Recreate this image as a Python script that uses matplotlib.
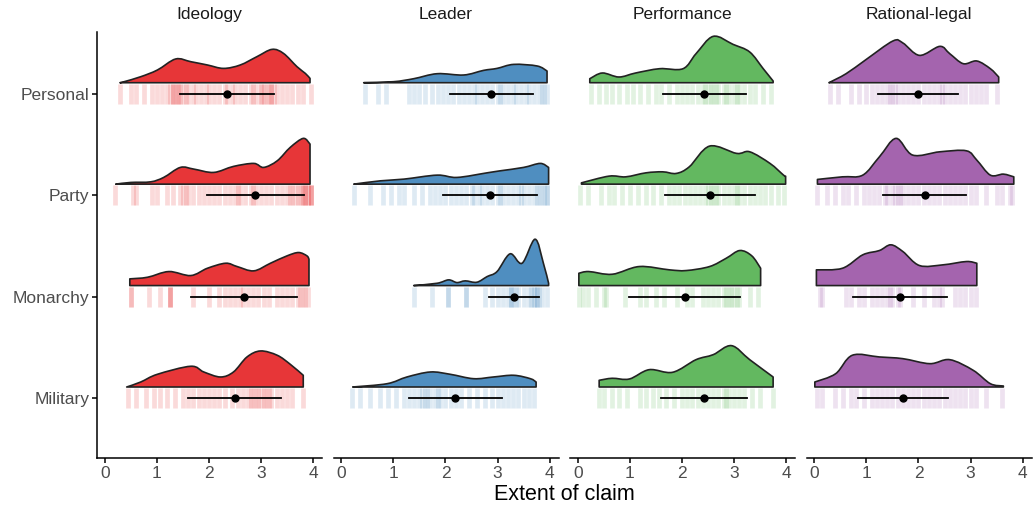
import matplotlib
matplotlib.use("Agg")
import matplotlib.pyplot as plt
from matplotlib.path import Path
from matplotlib.patches import PathPatch
from matplotlib.colors import to_rgba
import numpy as np

plt.rcParams['font.family'] = ['Liberation Sans', 'DejaVu Sans']

FACETS = ["Ideology", "Leader", "Performance", "Rational-legal"]
REGIMES = ["Personal", "Party", "Monarchy", "Military"]   # top to bottom
COLORS = ["#E41A1C", "#377EB8", "#4DAF4A", "#984EA3"]
XTICKS = [0, 1, 2, 3, 4]
XLABEL = "Extent of claim"

# ---- mean and sd per facet (order: Personal, Party, Monarchy, Military)
MEAN_IDEOLOGY = [2.34, 2.89, 2.67, 2.49]
SD_IDEOLOGY = [0.90, 0.93, 1.02, 0.89]
MEAN_LEADER = [2.88, 2.86, 3.32, 2.19]
SD_LEADER = [0.80, 0.90, 0.48, 0.90]
MEAN_PERFORMANCE = [2.43, 2.54, 2.05, 2.42]
SD_PERFORMANCE = [0.80, 0.86, 1.06, 0.83]
MEAN_RATIONAL = [1.99, 2.12, 1.64, 1.70]
SD_RATIONAL = [0.77, 0.80, 0.90, 0.87]

# ---- density curves (x, relative density height)
IDEO_PERSONAL_X = [0.29, 0.37, 0.69, 1.01, 1.36, 1.65, 1.97, 2.28, 2.60, 2.92, 3.21, 3.43, 3.69, 3.85, 3.94]
IDEO_PERSONAL_H = [0.0, 1.0, 6.0, 12.7, 23.7, 21.0, 17.7, 14.3, 17.7, 26.0, 33.3, 29.3, 16.0, 9.3, 4.3]
IDEO_PARTY_X = [0.21, 0.50, 0.88, 1.13, 1.45, 1.71, 2.09, 2.47, 2.86, 3.05, 3.31, 3.56, 3.81, 3.94]
IDEO_PARTY_H = [0.0, 1.7, 2.3, 6.7, 16.7, 15.0, 11.7, 17.7, 20.7, 16.7, 23.3, 36.7, 45.7, 40.0]
IDEO_MONARCHY_X = [0.48, 0.82, 1.23, 1.65, 1.97, 2.32, 2.54, 2.86, 3.18, 3.50, 3.72, 3.88, 3.92]
IDEO_MONARCHY_H = [6.7, 8.3, 14.0, 10.0, 17.3, 22.3, 19.0, 14.7, 22.3, 29.7, 33.0, 29.7, 26.3]
IDEO_MILITARY_X = [0.42, 0.69, 1.01, 1.65, 1.90, 2.22, 2.47, 2.73, 2.99, 3.31, 3.56, 3.81]
IDEO_MILITARY_H = [0.0, 5.0, 12.7, 20.7, 15.0, 10.0, 15.0, 30.0, 36.0, 31.7, 22.7, 11.7]

LEAD_PERSONAL_X = [0.43, 1.00, 1.39, 1.84, 2.35, 2.73, 2.99, 3.31, 3.76, 3.95]
LEAD_PERSONAL_H = [0.0, 1.0, 4.0, 9.0, 7.7, 12.3, 14.3, 18.3, 16.7, 11.7]
LEAD_PARTY_X = [0.24, 0.75, 1.20, 1.84, 2.22, 2.80, 3.05, 3.50, 3.82, 3.98]
LEAD_PARTY_H = [0.0, 3.3, 5.0, 9.0, 6.7, 11.3, 13.3, 16.7, 20.7, 16.7]
LEAD_MONARCHY_X = [1.39, 1.84, 2.06, 2.22, 2.38, 2.60, 2.80, 2.99, 3.24, 3.47, 3.72, 3.88, 3.98]
LEAD_MONARCHY_H = [0.0, 2.3, 5.7, 3.0, 4.7, 3.3, 9.0, 14.0, 31.7, 22.3, 46.3, 22.3, 2.3]
LEAD_MILITARY_X = [0.22, 0.88, 1.26, 1.71, 2.09, 2.54, 2.92, 3.31, 3.63, 3.74]
LEAD_MILITARY_H = [0.0, 3.3, 10.0, 15.0, 12.7, 8.3, 10.0, 11.7, 8.3, 5.0]

PERF_PERSONAL_X = [0.23, 0.47, 0.79, 1.11, 1.57, 2.02, 2.27, 2.60, 2.98, 3.30, 3.56, 3.75]
PERF_PERSONAL_H = [4.0, 9.7, 5.7, 9.7, 14.0, 14.0, 29.0, 46.3, 38.3, 30.7, 14.0, 1.7]
PERF_PARTY_X = [0.07, 0.60, 0.92, 1.31, 1.63, 1.89, 2.14, 2.53, 3.05, 3.30, 3.69, 3.95, 3.99]
PERF_PARTY_H = [1.3, 8.0, 7.3, 11.3, 12.3, 10.7, 17.3, 38.0, 30.7, 32.3, 20.7, 9.0, 8.0]
PERF_MONARCHY_X = [0.02, 0.21, 0.66, 1.18, 1.76, 2.08, 2.53, 2.85, 3.11, 3.34, 3.51]
PERF_MONARCHY_H = [12.3, 14.0, 11.3, 19.0, 15.7, 15.0, 19.0, 27.3, 35.0, 29.7, 17.3]
PERF_MILITARY_X = [0.41, 0.66, 0.99, 1.37, 1.82, 2.27, 2.60, 2.95, 3.30, 3.75]
PERF_MILITARY_H = [6.7, 8.7, 8.0, 17.3, 14.7, 27.3, 32.3, 41.3, 27.3, 10.0]

RAT_PERSONAL_X = [0.28, 0.61, 0.99, 1.51, 1.70, 2.02, 2.41, 2.60, 2.86, 3.12, 3.38, 3.54]
RAT_PERSONAL_H = [0.0, 9.0, 23.0, 41.7, 39.7, 27.3, 36.3, 29.0, 19.0, 21.7, 14.0, 5.7]
RAT_PARTY_X = [0.06, 0.54, 0.93, 1.25, 1.57, 1.89, 2.41, 2.92, 3.12, 3.38, 3.63, 3.83]
RAT_PARTY_H = [4.7, 7.3, 9.0, 27.3, 45.7, 29.0, 32.3, 33.3, 24.0, 9.0, 10.0, 7.3]
RAT_MONARCHY_X = [0.04, 0.54, 0.93, 1.25, 1.47, 1.70, 2.02, 2.47, 2.92, 3.12]
RAT_MONARCHY_H = [15.7, 17.3, 30.7, 35.0, 40.7, 34.0, 20.0, 20.7, 24.0, 22.3]
RAT_MILITARY_X = [0.01, 0.41, 0.73, 1.25, 1.70, 2.22, 2.60, 3.05, 3.38, 3.63]
RAT_MILITARY_H = [5.0, 13.3, 31.7, 30.0, 28.3, 23.3, 27.3, 16.7, 3.3, 1.0]

# ---- observed scores (raw points)
IDEO_PERSONAL_PTS = [0.3, 0.5, 0.6, 0.75, 0.9, 1.0, 1.1, 1.2, 1.25, 1.3, 1.3, 1.35, 1.4, 1.4, 1.45, 1.5, 1.55, 1.6, 1.7, 1.75, 1.85, 1.95, 2.0, 2.1, 2.2, 2.3, 2.35, 2.45, 2.5, 2.6, 2.7, 2.8, 2.85, 2.9, 3.0, 3.0, 3.05, 3.1, 3.15, 3.2, 3.2, 3.25, 3.3, 3.4, 3.5, 3.6, 3.7, 3.8, 3.95]
IDEO_PARTY_PTS = [0.2, 0.55, 0.6, 0.9, 1.0, 1.2, 1.3, 1.45, 1.5, 1.55, 1.6, 1.7, 1.8, 1.9, 2.0, 2.1, 2.2, 2.3, 2.4, 2.5, 2.55, 2.6, 2.7, 2.8, 2.85, 2.9, 3.0, 3.1, 3.2, 3.3, 3.4, 3.5, 3.55, 3.6, 3.65, 3.7, 3.75, 3.8, 3.8, 3.85, 3.85, 3.9, 3.9, 3.95, 3.95, 3.95]
IDEO_MONARCHY_PTS = [0.5, 0.5, 0.85, 1.05, 1.25, 1.25, 1.25, 1.7, 2.0, 2.2, 2.3, 2.4, 2.5, 2.6, 2.65, 2.75, 2.85, 2.95, 3.05, 3.15, 3.3, 3.4, 3.5, 3.6, 3.7, 3.75, 3.8, 3.85, 3.9]
IDEO_MILITARY_PTS = [0.45, 0.6, 0.8, 0.95, 1.05, 1.2, 1.35, 1.5, 1.6, 1.7, 1.8, 1.9, 2.0, 2.1, 2.2, 2.3, 2.45, 2.55, 2.65, 2.75, 2.8, 2.85, 2.9, 2.95, 3.0, 3.05, 3.1, 3.15, 3.2, 3.3, 3.4, 3.5, 3.6, 3.8]

LEAD_PERSONAL_PTS = [0.45, 0.7, 0.85, 1.3, 1.4, 1.5, 1.6, 1.75, 1.85, 1.95, 2.05, 2.15, 2.25, 2.35, 2.45, 2.55, 2.6, 2.7, 2.8, 2.9, 3.0, 3.05, 3.1, 3.2, 3.3, 3.35, 3.45, 3.55, 3.6, 3.7, 3.8, 3.85, 3.9, 3.95]
LEAD_PARTY_PTS = [0.25, 0.55, 0.8, 0.95, 1.1, 1.2, 1.4, 1.55, 1.7, 1.8, 1.9, 2.0, 2.1, 2.2, 2.3, 2.4, 2.5, 2.55, 2.65, 2.7, 2.8, 2.9, 3.0, 3.05, 3.1, 3.2, 3.3, 3.4, 3.45, 3.5, 3.6, 3.7, 3.75, 3.8, 3.85, 3.9, 3.95, 3.95]
LEAD_MONARCHY_PTS = [1.4, 1.75, 2.05, 2.05, 2.4, 2.4, 2.75, 2.9, 3.0, 3.1, 3.2, 3.25, 3.25, 3.3, 3.35, 3.4, 3.5, 3.6, 3.65, 3.7, 3.7, 3.75, 3.75, 3.8, 3.85, 3.95]
LEAD_MILITARY_PTS = [0.2, 0.35, 0.55, 0.75, 0.9, 1.05, 1.2, 1.3, 1.4, 1.5, 1.55, 1.6, 1.65, 1.7, 1.8, 1.85, 1.9, 2.0, 2.1, 2.2, 2.3, 2.45, 2.6, 2.75, 2.9, 3.0, 3.1, 3.2, 3.3, 3.4, 3.5, 3.6, 3.7]

PERF_PERSONAL_PTS = [0.25, 0.4, 0.55, 0.65, 0.8, 0.95, 1.05, 1.2, 1.35, 1.5, 1.6, 1.75, 1.9, 2.0, 2.1, 2.2, 2.3, 2.4, 2.45, 2.5, 2.55, 2.6, 2.65, 2.7, 2.8, 2.85, 2.9, 3.0, 3.05, 3.1, 3.2, 3.3, 3.4, 3.55, 3.7]
PERF_PARTY_PTS = [0.05, 0.2, 0.45, 0.6, 0.7, 0.85, 1.0, 1.15, 1.3, 1.45, 1.6, 1.75, 1.85, 1.95, 2.05, 2.15, 2.25, 2.35, 2.45, 2.5, 2.55, 2.6, 2.65, 2.7, 2.8, 2.9, 3.0, 3.05, 3.1, 3.2, 3.3, 3.4, 3.5, 3.6, 3.7, 3.85, 3.95]
PERF_MONARCHY_PTS = [0.02, 0.1, 0.2, 0.35, 0.5, 0.55, 0.9, 1.2, 1.3, 1.5, 1.65, 1.9, 2.1, 2.2, 2.4, 2.5, 2.6, 2.7, 2.8, 2.85, 2.9, 2.95, 3.0, 3.05, 3.1, 3.3, 3.45]
PERF_MILITARY_PTS = [0.4, 0.5, 0.65, 0.8, 0.95, 1.2, 1.3, 1.45, 1.55, 1.7, 1.85, 2.0, 2.1, 2.2, 2.3, 2.4, 2.5, 2.6, 2.7, 2.8, 2.85, 2.9, 3.0, 3.1, 3.2, 3.35, 3.5, 3.75]

RAT_PERSONAL_PTS = [0.3, 0.45, 0.7, 0.85, 1.0, 1.1, 1.2, 1.3, 1.4, 1.45, 1.5, 1.55, 1.6, 1.7, 1.8, 1.9, 2.0, 2.1, 2.2, 2.3, 2.4, 2.45, 2.5, 2.6, 2.7, 2.8, 2.9, 3.0, 3.1, 3.2, 3.3, 3.5]
RAT_PARTY_PTS = [0.05, 0.25, 0.4, 0.55, 0.65, 0.8, 0.95, 1.05, 1.15, 1.25, 1.35, 1.4, 1.5, 1.55, 1.6, 1.65, 1.7, 1.8, 1.9, 2.0, 2.1, 2.2, 2.3, 2.4, 2.5, 2.6, 2.7, 2.8, 2.9, 3.0, 3.1, 3.3, 3.5, 3.6, 3.75, 3.8]
RAT_MONARCHY_PTS = [0.1, 0.15, 0.6, 0.7, 0.85, 0.95, 1.1, 1.2, 1.3, 1.4, 1.45, 1.5, 1.6, 1.65, 1.9, 2.1, 2.3, 2.4, 2.45, 2.7, 2.8, 2.9, 3.0, 3.1]
RAT_MILITARY_PTS = [0.05, 0.15, 0.4, 0.55, 0.7, 0.8, 0.95, 1.1, 1.2, 1.3, 1.4, 1.5, 1.6, 1.7, 1.8, 1.9, 2.0, 2.1, 2.2, 2.3, 2.4, 2.5, 2.6, 2.7, 2.8, 2.9, 3.0, 3.1, 3.3, 3.6]

DENS = [
    [(IDEO_PERSONAL_X, IDEO_PERSONAL_H), (IDEO_PARTY_X, IDEO_PARTY_H), (IDEO_MONARCHY_X, IDEO_MONARCHY_H), (IDEO_MILITARY_X, IDEO_MILITARY_H)],
    [(LEAD_PERSONAL_X, LEAD_PERSONAL_H), (LEAD_PARTY_X, LEAD_PARTY_H), (LEAD_MONARCHY_X, LEAD_MONARCHY_H), (LEAD_MILITARY_X, LEAD_MILITARY_H)],
    [(PERF_PERSONAL_X, PERF_PERSONAL_H), (PERF_PARTY_X, PERF_PARTY_H), (PERF_MONARCHY_X, PERF_MONARCHY_H), (PERF_MILITARY_X, PERF_MILITARY_H)],
    [(RAT_PERSONAL_X, RAT_PERSONAL_H), (RAT_PARTY_X, RAT_PARTY_H), (RAT_MONARCHY_X, RAT_MONARCHY_H), (RAT_MILITARY_X, RAT_MILITARY_H)],
]
PTS = [
    [IDEO_PERSONAL_PTS, IDEO_PARTY_PTS, IDEO_MONARCHY_PTS, IDEO_MILITARY_PTS],
    [LEAD_PERSONAL_PTS, LEAD_PARTY_PTS, LEAD_MONARCHY_PTS, LEAD_MILITARY_PTS],
    [PERF_PERSONAL_PTS, PERF_PARTY_PTS, PERF_MONARCHY_PTS, PERF_MILITARY_PTS],
    [RAT_PERSONAL_PTS, RAT_PARTY_PTS, RAT_MONARCHY_PTS, RAT_MILITARY_PTS],
]
MEANS = [MEAN_IDEOLOGY, MEAN_LEADER, MEAN_PERFORMANCE, MEAN_RATIONAL]
SDS = [SD_IDEOLOGY, SD_LEADER, SD_PERFORMANCE, SD_RATIONAL]

# ---- layout / style
W, H = 1034, 513
fig = plt.figure(figsize=(W / 100, H / 100), dpi=100)
panel_w = 225
panel_step = 236.5
left0 = 97
top_px, bot_px = 32, 458
DENS_SCALE = 1 / 101.3
BASE_OFF = 0.11
JIT = 0.1
TICK_COLOR = "#4D4D4D"


def smooth_cloud_path(xs, ys, base):
    """Closed half-violin path; cubic Bezier segments (Catmull-Rom handles)
    so the rendered outline passes through every read point."""
    n = len(xs)
    P = np.column_stack([xs, ys])
    verts = [(xs[0], base), tuple(P[0])]
    codes = [Path.MOVETO, Path.LINETO]
    for i in range(n - 1):
        p0 = P[i - 1] if i > 0 else P[i]
        p1, p2 = P[i], P[i + 1]
        p3 = P[i + 2] if i + 2 < n else P[i + 1]
        c1 = p1 + (p2 - p0) / 6.0
        c2 = p2 - (p3 - p1) / 6.0
        c1[1] = max(c1[1], base)
        c2[1] = max(c2[1], base)
        verts += [tuple(c1), tuple(c2), tuple(p2)]
        codes += [Path.CURVE4] * 3
    verts.append((xs[-1], base))
    codes.append(Path.LINETO)
    verts.append((xs[0], base))
    codes.append(Path.CLOSEPOLY)
    return Path(verts, codes)


for f in range(4):
    ax = fig.add_axes([(left0 + f * panel_step) / W, 1 - bot_px / H,
                       panel_w / W, (bot_px - top_px) / H])
    col = COLORS[f]
    for r in range(4):
        ypos = 3 - r
        xs, hs = DENS[f][r]
        xs = np.asarray(xs, dtype=float)
        base = ypos + BASE_OFF
        ys = base + np.asarray(hs, dtype=float) * DENS_SCALE
        path = smooth_cloud_path(xs, ys, base)
        ax.add_patch(PathPatch(path, facecolor=to_rgba(col, 0.88),
                               edgecolor="#222222", lw=1.2, zorder=2,
                               joinstyle="round"))
        # raw points as faint vertical smears
        pts = PTS[f][r]
        ax.vlines(pts, ypos - JIT, ypos + JIT, colors=col, alpha=0.16,
                  lw=3.4, zorder=1)
        # mean +/- sd
        m, s = MEANS[f][r], SDS[f][r]
        ax.plot([m - s, m + s], [ypos, ypos], color="black", lw=1.3, zorder=4)
        ax.plot([m], [ypos], "o", color="black", ms=5, zorder=5)

    ax.set_xlim(-0.15, 4.17)
    ax.set_ylim(-0.59, 3.61)
    ax.set_xticks(XTICKS)
    ax.set_xticklabels([str(t) for t in XTICKS])
    for sp in ["top", "right"]:
        ax.spines[sp].set_visible(False)
    ax.spines["bottom"].set_linewidth(1.1)
    ax.tick_params(axis="x", length=3.5, width=1.1, pad=2,
                   labelsize=12.5, labelcolor=TICK_COLOR)
    if f == 0:
        ax.spines["left"].set_linewidth(1.1)
        ax.set_yticks([3, 2, 1, 0])
        ax.set_yticklabels(REGIMES)
        ax.tick_params(axis="y", length=3.5, width=1.1, pad=2,
                       labelsize=12.5, labelcolor=TICK_COLOR)
    else:
        ax.spines["left"].set_visible(False)
        ax.set_yticks([])
    ax.patch.set_alpha(0)
    cx = (left0 + f * panel_step + panel_w / 2) / W
    fig.text(cx, 1 - 15 / H, FACETS[f], ha="center", va="center",
             fontsize=12.5, color="#1A1A1A")

fig.text((left0 + 3 * panel_step + panel_w + left0) / 2 / W, 1 - 494 / H,
         XLABEL, ha="center", va="center", fontsize=15.5, color="black")

fig.savefig("out.png", dpi=100)
